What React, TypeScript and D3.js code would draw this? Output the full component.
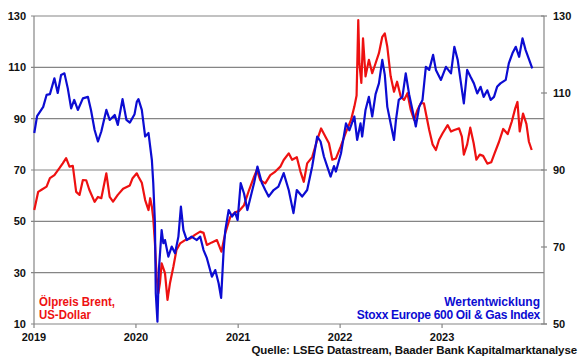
import React from 'react';
import * as d3 from 'd3';

// Brent oil price (USD, left axis)
const brentDates = [
  '2019-01-02', '2019-01-16', '2019-01-28', '2019-02-15', '2019-02-27', '2019-03-15', '2019-04-02', '2019-04-14',
  '2019-04-26', '2019-05-08', '2019-05-20', '2019-06-01', '2019-06-13', '2019-06-25', '2019-07-07', '2019-07-18',
  '2019-08-06', '2019-08-18', '2019-08-30', '2019-09-17', '2019-09-29', '2019-10-11', '2019-10-28', '2019-11-16',
  '2019-12-10', '2019-12-20', '2020-01-04', '2020-01-10', '2020-01-22', '2020-02-03', '2020-02-15', '2020-02-21',
  '2020-02-27', '2020-03-03', '2020-03-09', '2020-03-15', '2020-03-21', '2020-03-27', '2020-04-02', '2020-04-14',
  '2020-04-23', '2020-05-02', '2020-05-14', '2020-05-25', '2020-06-07', '2020-06-25', '2020-07-13', '2020-07-30',
  '2020-08-18', '2020-08-30', '2020-09-11', '2020-09-29', '2020-10-17', '2020-11-02', '2020-11-16', '2020-12-04',
  '2020-12-21', '2021-01-04', '2021-01-22', '2021-02-09', '2021-02-27', '2021-03-09', '2021-03-21', '2021-04-08',
  '2021-04-26', '2021-05-14', '2021-06-01', '2021-06-13', '2021-07-01', '2021-07-13', '2021-07-30', '2021-08-12',
  '2021-08-24', '2021-09-05', '2021-09-23', '2021-10-11', '2021-10-25', '2021-11-10', '2021-11-22', '2021-12-04',
  '2021-12-17', '2022-01-03', '2022-01-21', '2022-02-09', '2022-02-21', '2022-03-01', '2022-03-07', '2022-03-11',
  '2022-03-18', '2022-03-24', '2022-04-02', '2022-04-14', '2022-04-26', '2022-05-08', '2022-05-20', '2022-06-01',
  '2022-06-10', '2022-06-19', '2022-07-01', '2022-07-13', '2022-07-24', '2022-08-06', '2022-08-18', '2022-08-30',
  '2022-09-11', '2022-09-23', '2022-10-05', '2022-10-17', '2022-10-28', '2022-11-16', '2022-11-28', '2022-12-10',
  '2022-12-21', '2023-01-03', '2023-01-21', '2023-02-02', '2023-02-14', '2023-03-03', '2023-03-13', '2023-03-20',
  '2023-04-01', '2023-04-12', '2023-04-24', '2023-05-04', '2023-05-16', '2023-05-28', '2023-06-12', '2023-06-26',
  '2023-07-08', '2023-07-24', '2023-08-08', '2023-08-24', '2023-09-08', '2023-09-20', '2023-09-28', '2023-10-06',
  '2023-10-18', '2023-10-30', '2023-11-08', '2023-11-18',
];
const brentValues = [
  54.4, 61.5, 62.3, 63.5, 66.8, 68, 70.7, 72.6,
  74.6, 71.3, 71.6, 61.5, 60.3, 66.1, 66, 62.3,
  57.6, 59.5, 59, 68.7, 59.5, 57.7, 60.3, 62.7,
  64, 66.8, 68.7, 67.4, 65, 58.3, 54.4, 59,
  55.7, 51.2, 41.5, 28.4, 22, 26, 33.6, 29.8,
  19.4, 26, 32.3, 38.8, 41.4, 42.7, 43.3, 44.7,
  46, 45.5, 40.8, 41.8, 42.7, 38.2, 45.5, 51.8,
  53.5, 54, 56.3, 62.2, 67.4, 70, 66, 64.8,
  68, 69.4, 71.3, 73.9, 76.5, 74, 75, 69.4,
  65.4, 72.6, 75, 81.7, 86.2, 82.9, 80.4, 74,
  74.5, 79.1, 84.5, 89.5, 94.7, 99, 128.4, 111.6,
  103.9, 121.3, 106.5, 112.9, 107.7, 111.6, 115.5, 121.9,
  123.2, 118, 106.5, 100.5, 104.4, 98.6, 97.3, 99.9,
  93.4, 89.5, 93.4, 96, 96, 85.6, 80, 77.8,
  81.7, 84.3, 87.5, 85, 85.6, 86.2, 83, 76,
  80, 86.5, 80.5, 74, 76, 75.5, 72.5, 73,
  76.5, 81, 86, 84, 89, 94, 96.5, 85,
  92, 88, 81, 77.8,
];

// Stoxx Europe 600 Oil & Gas (right axis)
const stoxxDates = [
  '2019-01-02', '2019-01-12', '2019-02-03', '2019-02-15', '2019-02-27', '2019-03-15', '2019-03-27', '2019-04-08',
  '2019-04-20', '2019-05-02', '2019-05-14', '2019-05-25', '2019-06-07', '2019-06-25', '2019-07-13', '2019-07-24',
  '2019-08-06', '2019-08-18', '2019-08-30', '2019-09-17', '2019-09-29', '2019-10-17', '2019-10-28', '2019-11-14',
  '2019-11-28', '2019-12-10', '2019-12-27', '2020-01-04', '2020-01-10', '2020-01-22', '2020-02-03', '2020-02-15',
  '2020-02-27', '2020-03-03', '2020-03-09', '2020-03-12', '2020-03-18', '2020-03-23', '2020-04-02', '2020-04-08',
  '2020-04-14', '2020-04-26', '2020-05-08', '2020-05-20', '2020-06-01', '2020-06-10', '2020-06-19', '2020-07-01',
  '2020-07-18', '2020-08-06', '2020-08-18', '2020-08-30', '2020-09-11', '2020-09-29', '2020-10-11', '2020-10-23',
  '2020-11-01', '2020-11-10', '2020-11-16', '2020-11-28', '2020-12-10', '2020-12-21', '2020-12-30', '2021-01-10',
  '2021-01-22', '2021-02-03', '2021-02-15', '2021-02-27', '2021-03-11', '2021-03-27', '2021-04-08', '2021-04-20',
  '2021-05-08', '2021-05-25', '2021-06-13', '2021-07-01', '2021-07-18', '2021-07-30', '2021-08-18', '2021-09-05',
  '2021-09-23', '2021-10-11', '2021-10-23', '2021-11-04', '2021-11-16', '2021-11-28', '2021-12-10', '2021-12-17',
  '2022-01-04', '2022-01-22', '2022-02-03', '2022-02-21', '2022-03-03', '2022-03-15', '2022-03-21', '2022-04-02',
  '2022-04-14', '2022-04-26', '2022-05-08', '2022-05-20', '2022-06-01', '2022-06-10', '2022-06-19', '2022-07-01',
  '2022-07-13', '2022-07-20', '2022-07-30', '2022-08-12', '2022-08-24', '2022-09-05', '2022-09-17', '2022-09-29',
  '2022-10-11', '2022-10-23', '2022-11-04', '2022-11-16', '2022-11-30', '2022-12-10', '2022-12-28', '2023-01-15',
  '2023-02-02', '2023-02-14', '2023-02-26', '2023-03-08', '2023-03-20', '2023-04-01', '2023-04-13', '2023-04-25',
  '2023-05-07', '2023-05-19', '2023-05-30', '2023-06-12', '2023-06-24', '2023-07-06', '2023-07-17', '2023-07-29',
  '2023-08-17', '2023-08-28', '2023-09-10', '2023-09-22', '2023-10-04', '2023-10-16', '2023-10-27', '2023-11-09',
  '2023-11-20',
];
const stoxxValues = [
  99.6, 104, 106.4, 109.5, 109.7, 113.8, 110, 114.7,
  115.1, 111.2, 106, 108.2, 105.6, 108.6, 109, 105.6,
  100.4, 97.4, 100, 105.6, 103, 104.3, 101.7, 108.4,
  103, 102.3, 104.5, 107.7, 108.4, 105.6, 98.7, 99.6,
  92.6, 86.6, 76.2, 58, 50.6, 64, 74.4, 71,
  71.8, 67.5, 70.1, 68.4, 72.7, 80.5, 74.4, 71.8,
  72.7, 71.8, 72.7, 69.2, 67.1, 62.3, 64, 60.6,
  56.8, 69.2, 74.4, 79.6, 77.9, 79, 77, 86.6,
  83.9, 79.6, 83.1, 86.6, 90.9, 86.6, 84.8, 83.1,
  84.8, 85.7, 89.2, 84.8, 78.8, 84.8, 83.1, 84.8,
  90.9, 98.7, 97.4, 93.5, 90.9, 88.3, 91, 89.6,
  94.3, 102.1, 100.3, 103.9, 97.8, 102.1, 98.7, 105.6,
  109, 103.9, 109.7, 112.5, 118.6, 114.7, 106.4, 102.1,
  97.8, 103, 108.2, 109, 115.1, 109.7, 105.6, 101.3,
  106.4, 108.2, 116.8, 116, 119.9, 116, 113.4, 116.8,
  115.1, 122, 118.6, 113.4, 107.3, 116, 114.2, 112.5,
  109.9, 111.6, 109, 110.7, 108.2, 109, 111.6, 112.5,
  113.4, 117.7, 120.3, 122, 119.4, 124.2, 121.2, 118.6,
  116.4,
];

const leftTicks = [10, 30, 50, 70, 90, 110, 130];
const rightTicks = [50, 70, 90, 110, 130];
const yearTicks = [2019, 2020, 2021, 2022, 2023];

const W = 580;
const H = 359;
const margin = { top: 16, right: 36, bottom: 35, left: 34 };
const font = 'Liberation Sans, Arial, sans-serif';
const red = '#ee1111';
const blue = '#0c0cd2';
const gridColor = '#858585';

const parse = d3.timeParse('%Y-%m-%d');

const App = () => {
  const x = d3.scaleTime()
    .domain([new Date(2019, 0, 1), new Date(2024, 0, 1)])
    .range([margin.left, W - margin.right]);
  const yL = d3.scaleLinear().domain([10, 130]).range([H - margin.bottom, margin.top]);
  const yR = d3.scaleLinear().domain([50, 130]).range([H - margin.bottom, margin.top]);

  const brent = brentDates.map((d, i) => ({ date: parse(d) as Date, v: brentValues[i] }));
  const stoxx = stoxxDates.map((d, i) => ({ date: parse(d) as Date, v: stoxxValues[i] }));

  const brentLine = d3.line<{ date: Date; v: number }>().x(d => x(d.date)).y(d => yL(d.v));
  const stoxxLine = d3.line<{ date: Date; v: number }>().x(d => x(d.date)).y(d => yR(d.v));

  const x0 = margin.left;
  const x1 = W - margin.right;
  const yBottom = H - margin.bottom;

  return (
    <svg width={W} height={H} style={{ position: 'absolute', left: 0, top: 0, background: '#fff' }}
      fontFamily={font} fontWeight="bold">
      {/* horizontal grid on the left scale */}
      {leftTicks.filter(t => t > 10).map(t => (
        <line key={'g' + t} x1={x0 - 3} x2={x1} y1={yL(t)} y2={yL(t)} stroke={gridColor} strokeWidth={1.2} />
      ))}
      {/* axes */}
      <line x1={x0} x2={x0} y1={margin.top} y2={yBottom} stroke={gridColor} strokeWidth={1.2} />
      <line x1={x1} x2={x1} y1={margin.top} y2={yBottom} stroke={gridColor} strokeWidth={1.2} />
      <line x1={x0 - 3} x2={x1 + 3} y1={yBottom} y2={yBottom} stroke={gridColor} strokeWidth={1.2} />
      {rightTicks.map(t => (
        <line key={'rt' + t} x1={x1 - 3} x2={x1 + 3} y1={yR(t)} y2={yR(t)} stroke={gridColor} strokeWidth={1.2} />
      ))}
      {yearTicks.map(yr => (
        <line key={'xt' + yr} x1={x(new Date(yr, 0, 1))} x2={x(new Date(yr, 0, 1))} y1={yBottom} y2={yBottom + 4}
          stroke={gridColor} strokeWidth={1.2} />
      ))}

      {/* tick labels */}
      {leftTicks.map(t => (
        <text key={'lt' + t} x={26} y={yL(t) + 4} textAnchor="end" fontSize={11} fill="#111">{t}</text>
      ))}
      {rightTicks.map(t => (
        <text key={'rl' + t} x={553} y={yR(t) + 4} fontSize={11} fill="#111">{t}</text>
      ))}
      {yearTicks.map(yr => (
        <text key={'yl' + yr} x={x(new Date(yr, 0, 1))} y={341} textAnchor="middle" fontSize={11} fill="#111">{yr}</text>
      ))}

      {/* series */}
      <path d={brentLine(brent) || ''} fill="none" stroke={red} strokeWidth={2.2} strokeLinejoin="round" />
      <path d={stoxxLine(stoxx) || ''} fill="none" stroke={blue} strokeWidth={2.2} strokeLinejoin="round" />

      {/* legend texts */}
      <text x={39} y={306} fontSize={12} fill={red} textLength={76} lengthAdjust="spacingAndGlyphs">Ölpreis Brent,</text>
      <text x={39} y={318.5} fontSize={12} fill={red} textLength={52} lengthAdjust="spacingAndGlyphs">US-Dollar</text>
      <text x={540} y={306} fontSize={12} fill={blue} textAnchor="end">Wertentwicklung</text>
      <text x={540} y={318.5} fontSize={12} fill={blue} textAnchor="end" letterSpacing={-0.3}>Stoxx Europe 600 Oil &amp; Gas Index</text>

      <text x={577} y={354} fontSize={11.5} fill="#111" textAnchor="end" letterSpacing={-0.1}>
        Quelle: LSEG Datastream, Baader Bank Kapitalmarktanalyse
      </text>
    </svg>
  );
};

export default App;
